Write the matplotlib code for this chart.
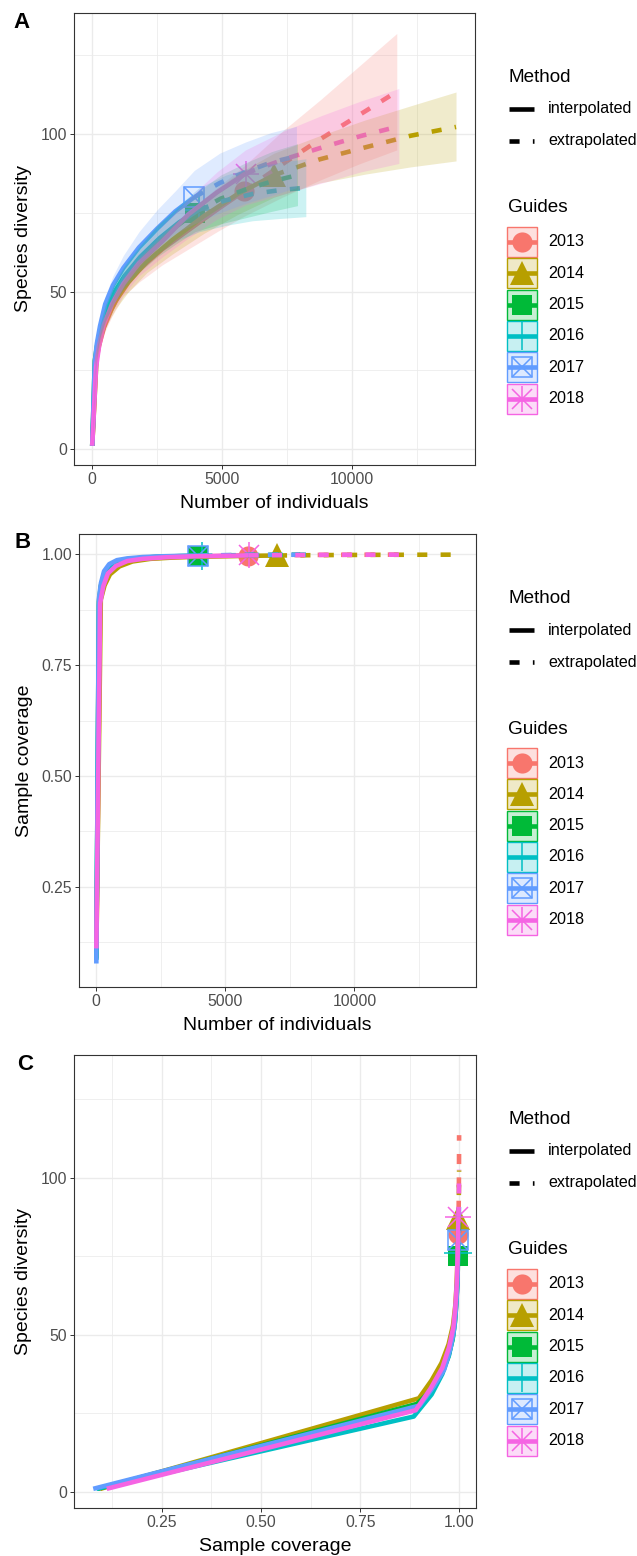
import matplotlib
matplotlib.use('Agg')
import matplotlib.pyplot as plt
from matplotlib.patches import Rectangle

plt.rcParams['font.family'] = ['Liberation Sans', 'DejaVu Sans']

W, H = 637, 1556

years = ['2013', '2014', '2015', '2016', '2017', '2018']
colors = ['#F8766D', '#B79F00', '#00BA38', '#00BFC4', '#619CFF', '#F564E3']
obs_idx = [10, 10, 10, 10, 10, 10]   # position of the observed sample in each series

# ---- 2013 ----
n_2013 = [1, 150, 270, 450, 750, 1200, 1800, 2700, 3700, 4800, 5860, 7325, 8790, 10255, 11720]
S_2013 = [1, 28, 33, 38.5, 44.5, 51.5, 57, 63.5, 69.5, 76, 82, 90.5, 98.5, 106, 113.5]
lo_2013 = [1, 26.8, 31.5, 36.5, 42, 48.5, 53, 58.5, 63.5, 69, 74, 80, 85.5, 90.5, 95]
hi_2013 = [1, 29.2, 34.5, 40.5, 47, 54.5, 61, 68.5, 75.5, 83, 90, 101, 111, 121.5, 132]
C_2013 = [0.090, 0.895, 0.93, 0.958, 0.975, 0.985, 0.99, 0.993, 0.995, 0.9963, 0.9973,
          0.9983, 0.9989, 0.9992, 0.9994]
# ---- 2014 ----
n_2014 = [1, 175, 320, 530, 900, 1400, 2100, 3100, 4300, 5600, 7000, 8750, 10500, 12250, 14000]
S_2014 = [1, 29.8, 35.5, 41, 47, 53, 59.5, 66.5, 74, 81, 87, 92, 95.8, 99.5, 102.3]
lo_2014 = [1, 28.6, 33.8, 39, 44.5, 50, 56, 62, 68.5, 74.5, 80, 84.5, 87.3, 89.6, 91.5]
hi_2014 = [1, 31, 37.2, 43, 49.5, 56, 63, 71, 79.5, 87.5, 94, 99.5, 104.5, 109, 113.4]
C_2014 = [0.095, 0.898, 0.93, 0.955, 0.973, 0.984, 0.99, 0.9933, 0.9953, 0.9965, 0.9975,
          0.9984, 0.9989, 0.9992, 0.9994]
# ---- 2015 ----
n_2015 = [1, 100, 180, 300, 500, 800, 1200, 1800, 2500, 3200, 3950, 4938, 5925, 6913, 7900]
S_2015 = [1, 28, 32.5, 37.5, 43, 48.5, 54, 60, 66, 70.5, 75, 79.5, 82.5, 85, 87]
lo_2015 = [1, 26.8, 31, 35.5, 40.5, 45.5, 50.5, 56, 61, 65, 69, 71.5, 73.5, 75.5, 77.3]
hi_2015 = [1, 29.2, 34, 39.5, 45.5, 51.5, 57.5, 64, 71, 76, 81, 87, 91, 94.5, 97]
C_2015 = [0.088, 0.893, 0.93, 0.955, 0.972, 0.983, 0.989, 0.9925, 0.995, 0.996, 0.9967,
          0.998, 0.9986, 0.999, 0.9993]
# ---- 2016 ----
n_2016 = [1, 105, 190, 315, 520, 830, 1250, 1850, 2600, 3350, 4110, 5138, 6165, 7193, 8220]
S_2016 = [1, 24, 31, 37.5, 43.5, 49.5, 55, 61, 67, 72, 76, 79, 81, 82.2, 83]
lo_2016 = [1, 22.8, 29.5, 35.5, 41, 46.5, 51.5, 57, 62.5, 66.5, 69, 71, 72.5, 73.2, 73.8]
hi_2016 = [1, 25.2, 32.5, 39.5, 46, 52.5, 58.5, 65, 71.5, 77.5, 83, 87, 89.5, 91, 92.2]
C_2016 = [0.085, 0.885, 0.93, 0.957, 0.974, 0.984, 0.989, 0.9925, 0.995, 0.996, 0.9968,
          0.998, 0.9986, 0.999, 0.9993]
# ---- 2017 ----
n_2017 = [1, 100, 180, 300, 500, 800, 1200, 1800, 2500, 3200, 3930, 4913, 5895, 6878, 7860]
S_2017 = [1, 27.5, 33.5, 39, 46, 52, 57.5, 64, 70, 75.5, 80, 84.5, 88, 91, 93]
lo_2017 = [1, 26.3, 31.8, 37, 43.5, 49, 53.5, 59, 64, 68.5, 71.5, 75, 78, 80.5, 83]
hi_2017 = [1, 28.7, 35.2, 41, 48.5, 55, 61.5, 69, 76, 82, 88.5, 94, 97.5, 100.5, 102.5]
C_2017 = [0.077, 0.900, 0.935, 0.962, 0.978, 0.987, 0.991, 0.994, 0.9956, 0.9966, 0.9972,
          0.9982, 0.9988, 0.9991, 0.9993]
# ---- 2018 ----
n_2018 = [1, 150, 270, 450, 760, 1200, 1800, 2700, 3700, 4800, 5900, 7375, 8850, 10325, 11800]
S_2018 = [1, 26, 33, 39.5, 46, 52.5, 59, 66, 74.5, 81.5, 87.5, 92, 95.8, 99.4, 102.5]
lo_2018 = [1, 24.8, 31.5, 37.5, 43.5, 49, 55, 61, 67, 73, 77.5, 81, 84.5, 88, 90.7]
hi_2018 = [1, 27.2, 34.5, 41.5, 48.5, 56, 63, 71, 79.5, 88, 95, 101, 106, 110.5, 114.5]
C_2018 = [0.111, 0.890, 0.928, 0.957, 0.974, 0.985, 0.99, 0.9935, 0.9955, 0.9967, 0.9977,
          0.9985, 0.999, 0.9992, 0.9994]

series = [
    (n_2013, S_2013, lo_2013, hi_2013, C_2013),
    (n_2014, S_2014, lo_2014, hi_2014, C_2014),
    (n_2015, S_2015, lo_2015, hi_2015, C_2015),
    (n_2016, S_2016, lo_2016, hi_2016, C_2016),
    (n_2017, S_2017, lo_2017, hi_2017, C_2017),
    (n_2018, S_2018, lo_2018, hi_2018, C_2018),
]

LW = 3.3
DASH = (2.2, 2.9)
GRID = '#EBEBEB'
TICKC = '#4D4D4D'

fig = plt.figure(figsize=(W / 100, H / 100), dpi=100)


def px_axes(left, right, top, bottom):
    return fig.add_axes([left / W, 1 - bottom / H, (right - left) / W, (bottom - top) / H])


def draw_marker(ax, x, y, i, z):
    c = colors[i]
    kw = dict(ls='none', zorder=z, color=c)
    if i == 0:
        ax.plot([x], [y], marker='o', ms=14.5, mec=c, mfc=c, mew=0, **kw)
    elif i == 1:
        ax.plot([x], [y], marker='^', ms=17, mec=c, mfc=c, mew=0, **kw)
    elif i == 2:
        ax.plot([x], [y], marker='s', ms=14, mec=c, mfc=c, mew=0, **kw)
    elif i == 3:
        ax.plot([x], [y], marker='+', ms=20, mew=1.1, **kw)
    elif i == 4:
        ax.plot([x], [y], marker='s', ms=14.5, mfc='none', mec=c, mew=1.1, **kw)
        ax.plot([x], [y], marker='x', ms=14.5, mew=1.1, **kw)
    else:
        ax.plot([x], [y], marker='+', ms=19, mew=1.1, **kw)
        ax.plot([x], [y], marker='x', ms=15, mew=1.1, **kw)


def style_axes(ax, xlim, ylim, xt, xtl, yt, ytl, xminor, yminor, xlabel, ylabel):
    ax.set_xlim(*xlim)
    ax.set_ylim(*ylim)
    ax.set_xticks(xt)
    ax.set_xticklabels(xtl)
    ax.set_yticks(yt)
    ax.set_yticklabels(ytl)
    ax.set_xticks(xminor, minor=True)
    ax.set_yticks(yminor, minor=True)
    ax.grid(True, which='major', color=GRID, lw=1.0, zorder=0)
    ax.grid(True, which='minor', color=GRID, lw=0.55, zorder=0)
    ax.set_axisbelow(True)
    ax.tick_params(which='major', length=2.75, width=0.7, color='#333333',
                   labelsize=11.3, labelcolor=TICKC, pad=2.2)
    ax.tick_params(which='minor', length=0)
    for s in ax.spines.values():
        s.set_color('#333333')
        s.set_linewidth(0.8)
    ax.set_xlabel(xlabel, fontsize=14, labelpad=5.5)
    ax.set_ylabel(ylabel, fontsize=14, labelpad=6)


def draw_panel(ax, mode):
    # points first, then lines, then ribbons (ggplot layer order)
    for i, (n, S, lo, hi, C) in enumerate(series):
        k = obs_idx[i]
        if mode == 'A':
            draw_marker(ax, n[k], S[k], i, 3)
        elif mode == 'B':
            draw_marker(ax, n[k], C[k], i, 3)
        else:
            draw_marker(ax, C[k], S[k], i, 3)
    for i, (n, S, lo, hi, C) in enumerate(series):
        k = obs_idx[i]
        if mode == 'A':
            x, y = n, S
        elif mode == 'B':
            x, y = n, C
        else:
            x, y = C, S
        ax.plot(x[:k + 1], y[:k + 1], color=colors[i], lw=LW, solid_capstyle='butt',
                solid_joinstyle='round', zorder=4 + i * 0.01)
        ax.plot(x[k:], y[k:], color=colors[i], lw=LW, dashes=DASH, dash_capstyle='butt',
                dash_joinstyle='round', zorder=4 + i * 0.01)
    if mode == 'A':
        for i, (n, S, lo, hi, C) in enumerate(series):
            ax.fill_between(n, lo, hi, color=colors[i], alpha=0.2, lw=0, zorder=5)


def draw_legend(top, bottom):
    lax = px_axes(480, W, top, bottom)
    lax.set_xlim(480, W)
    lax.set_ylim(bottom, top)
    lax.axis('off')
    lax.text(508, top + 64, 'Method', fontsize=13.6, va='center', ha='left')
    lax.plot([509, 534], [top + 96, top + 96], color='black', lw=LW, solid_capstyle='butt')
    lax.plot([509, 534], [top + 128, top + 128], color='black', lw=LW, dashes=DASH,
             dash_capstyle='butt')
    lax.text(548, top + 96, 'interpolated', fontsize=11.6, va='center', ha='left')
    lax.text(548, top + 128, 'extrapolated', fontsize=11.6, va='center', ha='left')
    lax.text(508, top + 195, 'Guides', fontsize=13.6, va='center', ha='left')
    for i, yr in enumerate(years):
        yc = top + 229 + i * 31.3
        c = colors[i]
        lax.add_patch(Rectangle((507, yc - 15), 30, 30, facecolor=c, alpha=0.22,
                                edgecolor='none', zorder=1))
        lax.add_patch(Rectangle((507, yc - 15), 30, 30, facecolor='none',
                                edgecolor=c, lw=1.0, zorder=2))
        draw_marker(lax, 522, yc, i, 3)
        lax.plot([507, 537], [yc, yc], color=c, lw=LW, solid_capstyle='butt', zorder=4)
        lax.text(548, yc, yr, fontsize=11.6, va='center', ha='left')


# ---------------- Panel A ----------------
axA = px_axes(74, 475, 13, 465)
draw_panel(axA, 'A')
style_axes(axA, (-700, 14730), (-5.1, 138.5), [0, 5000, 10000], ['0', '5000', '10000'],
           [0, 50, 100], ['0', '50', '100'], [2500, 7500, 12500], [25, 75, 125],
           'Number of individuals', 'Species diversity')
draw_legend(13, 465)

# ---------------- Panel B ----------------
axB = px_axes(79, 476, 534, 987)
draw_panel(axB, 'B')
style_axes(axB, (-670, 14710), (0.024, 1.046), [0, 5000, 10000], ['0', '5000', '10000'],
           [0.25, 0.5, 0.75, 1.0], ['0.25', '0.50', '0.75', '1.00'], [2500, 7500, 12500],
           [0.125, 0.375, 0.625, 0.875], 'Number of individuals', 'Sample coverage')
draw_legend(534, 987)

# ---------------- Panel C ----------------
axC = px_axes(74, 476, 1055, 1508)
draw_panel(axC, 'C')
style_axes(axC, (0.0285, 1.042), (-5.1, 139), [0.25, 0.5, 0.75, 1.0],
           ['0.25', '0.50', '0.75', '1.00'], [0, 50, 100], ['0', '50', '100'],
           [0.125, 0.375, 0.625, 0.875], [25, 75, 125],
           'Sample coverage', 'Species diversity')
draw_legend(1055, 1508)

# panel letters
for lab, yc, xc in [('A', 23, 22), ('B', 542.5, 23), ('C', 1064, 25)]:
    fig.text(xc / W, 1 - yc / H, lab, fontsize=16, fontweight='bold', ha='center', va='center')

fig.savefig('out.png', dpi=100)
